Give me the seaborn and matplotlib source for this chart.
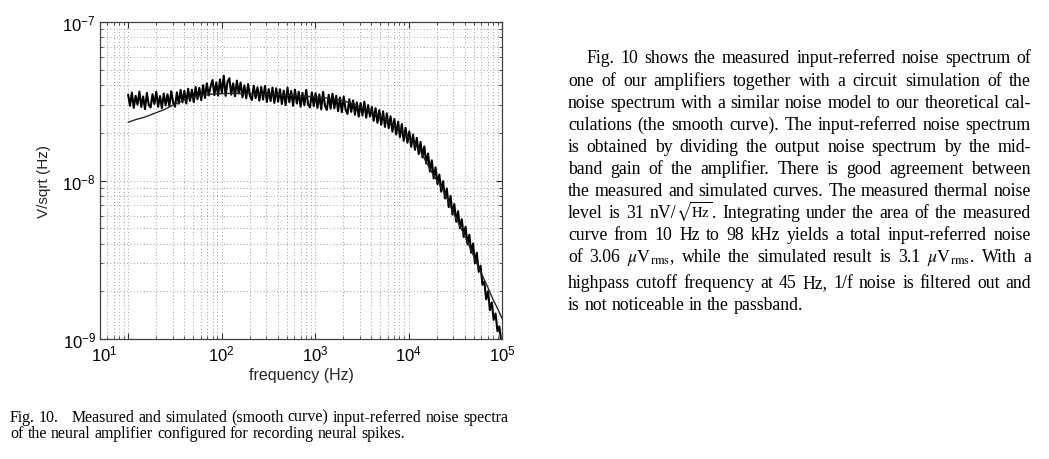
import re
import numpy as np
import pandas as pd
import matplotlib
matplotlib.use("Agg")
import matplotlib.pyplot as plt
import matplotlib.transforms as mtransforms
from matplotlib.ticker import FixedLocator, LogLocator, NullFormatter, FixedFormatter
import seaborn as sns

W, H = 1049, 460

# ---------------- data ----------------
x_limits = [5, 1e5]
y_limits = [1e-9, 1e-7]
x_major = [1e1, 1e2, 1e3, 1e4, 1e5]
x_tick_labels = [r"$10^{1}$", r"$10^{2}$", r"$10^{3}$", r"$10^{4}$", r"$10^{5}$"]
y_major = [1e-9, 1e-8, 1e-7]
y_tick_labels = [r"$10^{-9}$", r"$10^{-8}$", r"$10^{-7}$"]

# measured spectrum: 10 Hz .. 98 kHz on a log-spaced sample grid, values in nV/sqrt(Hz)
measured_f_start, measured_f_stop = 10, 98000
measured_nv = [
    34.8, 29.6, 35.9, 28.7, 34.2, 30.0, 36.4, 29.1, 33.9, 28.2,
    35.7, 30.0, 28.9, 35.0, 30.4, 36.3, 29.2, 34.1, 28.6, 35.4,
    29.8, 35.0, 29.5, 36.6, 31.0, 29.2, 36.0, 30.5, 37.3, 31.1,
    36.8, 30.6, 37.9, 31.8, 37.4, 31.2, 38.9, 32.6, 38.4, 32.1,
    39.9, 33.2, 41.0, 34.4, 39.3, 43.0, 34.6, 41.6, 34.3, 43.5,
    35.6, 45.8, 34.2, 41.9, 44.2, 34.8, 41.0, 34.0, 42.7, 35.4,
    41.5, 33.5, 39.8, 33.0, 40.6, 34.3, 32.2, 39.6, 33.1, 38.7,
    31.9, 38.9, 32.4, 39.5, 31.3, 37.7, 31.7, 38.6, 30.9, 38.2,
    31.4, 37.6, 30.4, 36.9, 29.9, 38.6, 31.2, 36.7, 29.6, 37.4,
    30.6, 36.3, 29.2, 35.7, 29.8, 37.3, 30.2, 28.9, 36.0, 29.5,
    35.6, 28.7, 34.9, 28.1, 36.2, 29.6, 27.9, 34.7, 28.4, 35.3,
    28.5, 34.2, 27.4, 33.4, 27.0, 33.9, 28.0, 26.3, 32.6, 27.1,
    32.0, 26.0, 31.1, 25.3, 30.8, 25.7, 31.4, 24.9, 29.9, 25.3,
    29.1, 23.8, 28.6, 23.1, 27.8, 22.5, 27.3, 21.8, 26.5, 21.4,
    25.4, 20.3, 24.5, 19.5, 23.5, 18.8, 22.7, 17.8, 21.5, 17.3,
    20.4, 16.3, 19.5, 15.6, 18.6, 14.7, 17.5, 14.0, 16.4, 12.8,
    14.8, 11.4, 13.4, 10.3, 12.1, 9.5, 10.9, 8.5, 9.9, 7.7,
    8.9, 6.8, 8.0, 6.1, 7.1, 5.5, 6.4, 5.0, 5.7, 4.4,
    5.1, 3.95, 4.55, 3.5, 4.0, 3.0, 3.5, 2.65, 2.9, 2.2,
    2.3, 1.78, 2.0, 1.52, 1.7, 1.32, 1.45, 1.12, 1.2, 0.97,
]

# simulated (smooth) spectrum
sim_freq = [10, 12, 15, 20, 25, 30, 38, 45, 58, 80, 130, 200, 400, 800, 1200,
            1800, 2700, 4000, 5700, 8700, 13000, 18000, 24000, 30000, 40000,
            50000, 60000, 70000, 80000, 90000, 100000]
sim_nv = [23.3, 24.2, 25.1, 26.8, 28.2, 29.9, 31.8, 33.1, 34.3, 35.1, 35.5, 35.3,
          34.8, 34.0, 33.4, 32.4, 30.2, 27.2, 24.4, 20.4, 15.8, 11.1, 8.5, 6.3,
          4.47, 3.31, 2.60, 2.14, 1.78, 1.55, 1.35]

x_label = "frequency (Hz)"
y_label = "V/sqrt (Hz)"

paragraph_lines = [
    "Fig. 10 shows the measured input-referred noise spectrum of",
    "one of our amplifiers together with a circuit simulation of the",
    "noise spectrum with a similar noise model to our theoretical cal-",
    "culations (the smooth curve). The input-referred noise spectrum",
    "is obtained by dividing the output noise spectrum by the mid-",
    "band gain of the amplifier. There is good agreement between",
    "the measured and simulated curves. The measured thermal noise",
    r"level is 31 nV/$\sqrt{\mathrm{Hz}}$. Integrating under the area of the measured",
    "curve from 10 Hz to 98 kHz yields a total input-referred noise",
    r"of 3.06 $\mu\mathrm{V}_{\mathrm{rms}}$, while the simulated result is 3.1 $\mu\mathrm{V}_{\mathrm{rms}}$. With a",
    "highpass cutoff frequency at 45 Hz, 1/f noise is filtered out and",
    "is not noticeable in the passband.",
]
caption_lines = [
    "Fig. 10.   Measured and simulated (smooth curve) input-referred noise spectra",
    "of the neural amplifier configured for recording neural spikes.",
]

# ---------------- style ----------------
sns.set_theme(style="ticks")
plt.rcParams["font.family"] = ["Liberation Sans", "DejaVu Sans"]
plt.rcParams["mathtext.fontset"] = "custom"
plt.rcParams["mathtext.rm"] = "Liberation Sans"
plt.rcParams["mathtext.it"] = "Liberation Sans:italic"
plt.rcParams["mathtext.bf"] = "Liberation Sans:bold"
plt.rcParams["axes.unicode_minus"] = True

fig = plt.figure(figsize=(W / 100, H / 100), dpi=100)
fig.patch.set_facecolor("white")
ax = fig.add_axes([100 / W, 1 - 340 / H, 402 / W, 317 / H])
ax.set_facecolor("white")
ax.set_xscale("log")
ax.set_yscale("log")

measured_freq = np.geomspace(measured_f_start, measured_f_stop, len(measured_nv))
df_meas = pd.DataFrame({"f": measured_freq, "v": np.array(measured_nv) * 1e-9})
df_sim = pd.DataFrame({"f": sim_freq, "v": np.array(sim_nv) * 1e-9})

sns.lineplot(data=df_meas, x="f", y="v", ax=ax, color="black", lw=1.5,
             estimator=None, sort=False)
sns.lineplot(data=df_sim, x="f", y="v", ax=ax, color="0.15", lw=1.0,
             estimator=None, sort=False)

ax.set_xlim(*x_limits)
ax.set_ylim(*y_limits)

ax.xaxis.set_major_locator(FixedLocator(x_major))
ax.xaxis.set_major_formatter(FixedFormatter(x_tick_labels))
ax.yaxis.set_major_locator(FixedLocator(y_major))
ax.yaxis.set_major_formatter(FixedFormatter(y_tick_labels))
ax.xaxis.set_minor_locator(LogLocator(base=10, subs=np.arange(2, 10), numticks=50))
ax.yaxis.set_minor_locator(LogLocator(base=10, subs=np.arange(2, 10), numticks=50))
ax.xaxis.set_minor_formatter(NullFormatter())
ax.yaxis.set_minor_formatter(NullFormatter())

ax.grid(True, which="both", linestyle=(0, (1, 3)), linewidth=0.6, color="0.5")
ax.tick_params(which="both", direction="in", top=True, right=True,
               colors="0.2", labelcolor="black", labelsize=12)
ax.tick_params(which="major", length=4, width=0.8, pad=3)
ax.tick_params(which="minor", length=2, width=0.6)
for s in ax.spines.values():
    s.set_color("0.25")
    s.set_linewidth(0.9)

ax.set_xlabel(x_label, fontsize=11.5, labelpad=3)
ax.set_ylabel(y_label, fontsize=11, labelpad=8)

# the first x tick label sits at the left edge of the frame in the reference
first_tick = ax.xaxis.get_major_ticks()[0]
offset = mtransforms.ScaledTranslation(-24 / 100, 0, fig.dpi_scale_trans)
first_tick.label1.set_transform(first_tick.label1.get_transform() + offset)

# ---------------- justified text blocks ----------------
renderer = fig.canvas.get_renderer()
SQRT_SCALE = 0.82


def pieces(word):
    """Split a word so that a square-root formula can be drawn a little smaller."""
    out = []
    for part in re.split(r"(\$\\sqrt\{[^$]*\}\$)", word):
        if part:
            out.append((part, SQRT_SCALE if part.startswith("$\\sqrt") else 1.0))
    return out


def measure(s, fs, family, mff):
    if s == "":
        return 0.0
    t = fig.text(0, 0, s, fontsize=fs, family=family, math_fontfamily=mff)
    w = t.get_window_extent(renderer).width
    t.remove()
    return w


def word_width(word, fs, family, mff):
    return sum(measure(p, fs * k, family, mff) for p, k in pieces(word))


def natural_widths(words_all, fs, family, mff):
    space = measure("a a", fs, family, mff) - measure("aa", fs, family, mff)
    widths = [[word_width(w, fs, family, mff) for w in ws] for ws in words_all]
    return space, widths


def justified_block(lines, x0, x1, baselines, indents, family, mff, fs_max,
                    fit_lines):
    words_all = [ln.split(" ") for ln in lines]
    fs = 10.0
    for _ in range(2):
        space, widths_all = natural_widths(words_all, fs, family, mff)
        ratios = []
        for i in fit_lines:
            nat = sum(widths_all[i]) + space * (len(words_all[i]) - 1)
            ratios.append((x1 - x0 - indents[i]) / nat)
        fs = min(fs_max, fs * min(ratios) * 0.995)
    space, widths_all = natural_widths(words_all, fs, family, mff)
    for i, (ws, wd) in enumerate(zip(words_all, widths_all)):
        xs = x0 + indents[i]
        ngaps = len(ws) - 1
        if i in fit_lines and ngaps > 0:
            gap = (x1 - xs - sum(wd)) / ngaps
        else:
            gap = space
        x = xs
        for w, wdt in zip(ws, wd):
            px = x
            for p, k in pieces(w):
                fig.text(px / W, 1 - baselines[i] / H, p, fontsize=fs * k,
                         family=family, math_fontfamily=mff,
                         ha="left", va="baseline", color="black")
                px += measure(p, fs * k, family, mff)
            x += wdt + gap
    return fs


serif = ["Liberation Serif", "DejaVu Serif"]
para_base = [63.3, 86, 108.3, 130, 152.3, 174, 196, 217.7, 240, 262.3, 287.7, 310]
para_ind = [18] + [0] * 11
justified_block(paragraph_lines, 568, 1031, para_base, para_ind, serif, "stix",
                14.0, list(range(11)))

cap_base = [421.7, 437.7]
justified_block(caption_lines, 10, 508, cap_base, [0, 0], serif, "stix",
                12.0, [0])

fig.savefig("out.png", dpi=100, facecolor="white")
